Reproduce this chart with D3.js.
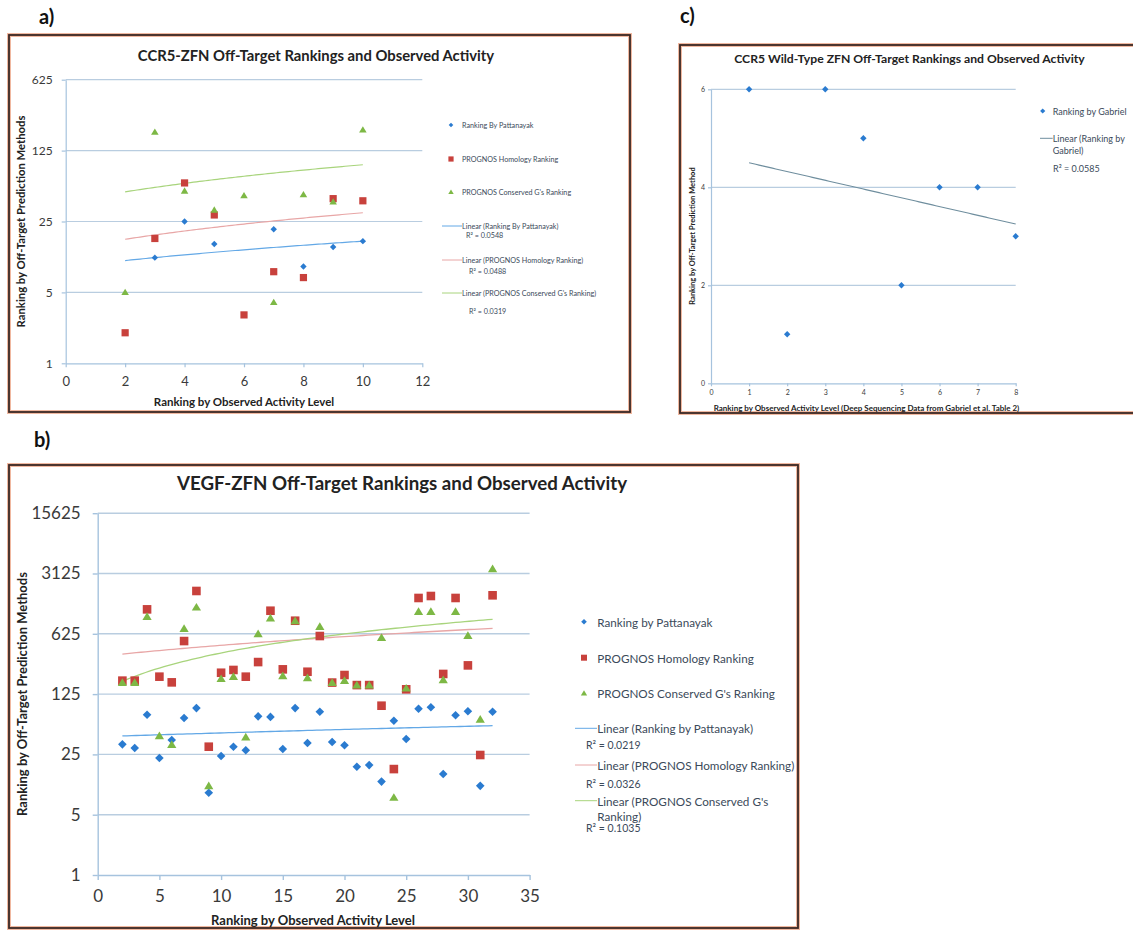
<!DOCTYPE html>
<html><head><meta charset="utf-8">
<script src="https://cdn.jsdelivr.net/npm/d3@7"></script>
<style>
html,body{margin:0;padding:0;background:#fff;}
svg{display:block;font-family:Lato,"Open Sans",sans-serif;}
</style></head><body>
<svg id="chart" width="1133" height="930"></svg>
<script>
// ---------------- DATA ----------------
// Panel a: CCR5-ZFN
const aObserved   = [2, 3, 4, 5, 6, 7, 8, 9, 10];
const aPattanayak = [null, 11, 25, 15, null, 21, 9, 14, 16];
const aHomology   = [2, 17, 60, 29, 3, 8, 7, 42, 40];
const aConservedG = [5, 190, 50, 32.5, 45, 4, 46, 39, 200];
const aTrendRange = [2, 10];
const aTrendPattanayak = [10.3, 16];
const aTrendHomology   = [16.7, 30.5];
const aTrendConservedG = [49, 90.7];
const aR2 = ["0.0548", "0.0488", "0.0319"];
const aXTicks = [0, 2, 4, 6, 8, 10, 12];
const aYTicks = [1, 5, 25, 125, 625];

// Panel b: VEGF-ZFN
const bObserved = [2,3,4,5,6,7,8,9,10,11,12,13,14,15,16,17,18,19,20,21,22,23,24,25,26,27,28,29,30,31,32];
const bPattanayak = [32.7,29.6,72,22.7,36.7,66,86,9.0,24,30.7,27.9,69,68,28.9,86,33.9,78,34.8,31.9,18,18.8,12.1,61.4,37.7,84.6,88,14.8,71,79,10.8,78];
const bHomology   = [179,179,1200,199,171,515,1960,30.7,221,238,199,294,1157,242,886,227,589,170,208,159,159,91.7,16.9,142,1626,1714,214,1626,269,24.6,1746];
const bConservedG = [170,170,986,40.9,32.4,716,1268,10.8,188,199,39.5,622,946,203,879,192,755,170,179,159,159,563,7.9,146,1127,1127,182,1127,594,63.7,3527];
const bTrendRange = [2, 32];
const bTrendPattanayak = [40.9, 53.8];
const bTrendHomology   = [364, 723];
const bTrendConservedG = [176, 920];
const bR2 = ["0.0219", "0.0326", "0.1035"];
const bXTicks = [0, 5, 10, 15, 20, 25, 30, 35];
const bYTicks = [1, 5, 25, 125, 625, 3125, 15625];

// Panel c: CCR5 wild-type ZFN (Gabriel)
const cObserved = [1, 2, 3, 4, 5, 6, 7, 8];
const cGabriel  = [6, 1, 6, 5, 2, 4, 4, 3];
const cR2 = "0.0585";
const cXTicks = [0, 1, 2, 3, 4, 5, 6, 7, 8];
const cYTicks = [0, 2, 4, 6];

// ---------------- STYLE ----------------
const C = {
  blue: "#2a7bd0", red: "#c8413c", green: "#7db845",
  tBlue: "#63a8e6", tRed: "#e8a6a6", tGreen: "#a8d47c", tGrey: "#6f8e9e",
  grid: "#b9cde0", axis: "#a6c3de", text: "#3a3a3a", title: "#222", frame: "#3a2824"
};

const svg = d3.select("#chart");

function marker(g, type, x, y, s, color) {
  if (type === "diamond") {
    g.append("path").attr("d", `M${x},${y - s}L${x + s},${y}L${x},${y + s}L${x - s},${y}Z`).attr("fill", color);
  } else if (type === "square") {
    g.append("rect").attr("x", x - s).attr("y", y - s).attr("width", 2 * s).attr("height", 2 * s).attr("fill", color);
  } else {
    g.append("path").attr("d", `M${x},${y - s}L${x + s * 1.05},${y + s * 0.75}L${x - s * 1.05},${y + s * 0.75}Z`).attr("fill", color);
  }
}

function trendLine(g, xs, ys, range, vals, color, w) {
  const n = 80;
  const pts = d3.range(n + 1).map(i => {
    const t = i / n;
    return [range[0] + (range[1] - range[0]) * t, vals[0] + (vals[1] - vals[0]) * t];
  });
  g.append("path").attr("d", d3.line().x(d => xs(d[0])).y(d => ys(d[1]))(pts))
    .attr("fill", "none").attr("stroke", color).attr("stroke-width", w);
}

function frame(x, y, w, h) {
  svg.append("rect").attr("x", x).attr("y", y).attr("width", w).attr("height", h)
    .attr("fill", "#fff").attr("stroke", "#f0b8a0").attr("stroke-width", 4);
  svg.append("rect").attr("x", x).attr("y", y).attr("width", w).attr("height", h)
    .attr("fill", "none").attr("stroke", C.frame).attr("stroke-width", 1.8);
}

function axesAndGrid(g, xs, ys, xTicks, yTicks, o) {
  const [x0, x1] = xs.range();
  const [yb, yt] = ys.range();
  yTicks.slice(1).forEach(v => {
    g.append("line").attr("x1", x0).attr("x2", x1).attr("y1", ys(v)).attr("y2", ys(v))
      .attr("stroke", C.grid).attr("stroke-width", o.gw);
  });
  const xa = g.append("g").attr("transform", `translate(0,${yb})`)
    .call(d3.axisBottom(xs).tickValues(xTicks).tickSize(o.tick).tickSizeOuter(0).tickFormat(d3.format("d")));
  const ya = g.append("g").attr("transform", `translate(${x0},0)`)
    .call(d3.axisLeft(ys).tickValues(yTicks).tickSize(o.tick).tickSizeOuter(0).tickFormat(d3.format("d")));
  [xa, ya].forEach(a => {
    a.select(".domain").attr("stroke", C.axis).attr("stroke-width", o.aw);
    a.selectAll(".tick line").attr("stroke", C.axis).attr("stroke-width", o.aw);
  });
  xa.selectAll(".tick text").attr("font-size", o.xf).attr("fill", C.text).attr("y", o.xdy).attr("dy", "0.71em")
    .attr("font-family", "Lato, sans-serif");
  ya.selectAll(".tick text").attr("font-size", o.yf).attr("fill", C.text).attr("x", -o.ydx)
    .attr("font-family", "Lato, sans-serif");
}

function text(g, x, y, s, size, opts = {}) {
  const t = g.append("text").attr("x", x).attr("y", y).text(s)
    .attr("font-size", size).attr("fill", opts.fill || C.title)
    .attr("font-weight", opts.bold ? "bold" : "normal")
    .attr("text-anchor", opts.anchor || "start")
    .attr("dominant-baseline", "central");
  if (opts.rotate) t.attr("transform", `rotate(-90,${x},${y})`);
  return t;
}

// ---------------- PANEL LABELS ----------------
text(svg, 39, 16, "a)", 20, { bold: true, fill: "#111" });
text(svg, 680, 15, "c)", 20, { bold: true, fill: "#111" });
text(svg, 34, 439, "b)", 20, { bold: true, fill: "#111" });

// ---------------- PANEL A ----------------
frame(9, 35, 621, 377);
{
  const g = svg.append("g");
  const xs = d3.scaleLinear().domain([0, 12]).range([65.7, 422.3]);
  const ys = d3.scaleLog().base(5).domain([1, 625]).range([363.3, 79.7]);
  axesAndGrid(g, xs, ys, aXTicks, aYTicks, { gw: 1.2, aw: 1.2, tick: 4, xf: 13, yf: 12, xdy: 13, ydx: 13 });
  trendLine(g, xs, ys, aTrendRange, aTrendPattanayak, C.tBlue, 1.2);
  trendLine(g, xs, ys, aTrendRange, aTrendHomology, C.tRed, 1.2);
  trendLine(g, xs, ys, aTrendRange, aTrendConservedG, C.tGreen, 1.2);
  aObserved.forEach((x, i) => { if (aPattanayak[i] != null) marker(g, "diamond", xs(x), ys(aPattanayak[i]), 3.2, C.blue); });
  aObserved.forEach((x, i) => { if (aHomology[i] != null) marker(g, "square", xs(x), ys(aHomology[i]), 3.6, C.red); });
  aObserved.forEach((x, i) => { if (aConservedG[i] != null) marker(g, "triangle", xs(x), ys(aConservedG[i]), 3.6, C.green); });

  text(g, 316, 55, "CCR5-ZFN Off-Target Rankings and Observed Activity", 14.8, { bold: true, anchor: "middle" });
  text(g, 244, 401, "Ranking by Observed Activity Level", 11.5, { bold: true, anchor: "middle" });
  text(g, 20, 221.5, "Ranking by Off-Target Prediction Methods", 11.3, { bold: true, anchor: "middle", rotate: true });

  const lf = 7.2, lc = "#3b4a5a";
  marker(g, "diamond", 451, 125, 2.3, C.blue);     text(g, 462, 125, "Ranking By Pattanayak", lf, { fill: lc });
  marker(g, "square", 451, 159, 2.6, C.red);       text(g, 462, 159, "PROGNOS Homology Ranking", lf, { fill: lc });
  marker(g, "triangle", 451, 192, 2.6, C.green);   text(g, 462, 192, "PROGNOS Conserved G's Ranking", lf, { fill: lc });
  g.append("line").attr("x1", 442).attr("x2", 462).attr("y1", 226).attr("y2", 226).attr("stroke", C.tBlue);
  text(g, 462, 226, "Linear (Ranking By Pattanayak)", lf, { fill: lc });
  text(g, 466, 235, "R² = " + aR2[0], lf, { fill: lc });
  g.append("line").attr("x1", 442).attr("x2", 462).attr("y1", 260).attr("y2", 260).attr("stroke", C.tRed);
  text(g, 462, 260, "Linear (PROGNOS Homology Ranking)", lf, { fill: lc });
  text(g, 469, 271, "R² = " + aR2[1], lf, { fill: lc });
  g.append("line").attr("x1", 442).attr("x2", 462).attr("y1", 293).attr("y2", 293).attr("stroke", C.tGreen);
  text(g, 462, 293, "Linear (PROGNOS Conserved G's Ranking)", lf, { fill: lc });
  text(g, 469, 311, "R² = " + aR2[2], lf, { fill: lc });
}

// ---------------- PANEL C ----------------
frame(680, 45, 470, 368);
{
  const g = svg.append("g");
  const xs = d3.scaleLinear().domain([0, 8]).range([711, 1015.7]);
  const ys = d3.scaleLinear().domain([0, 6]).range([383.3, 89.3]);
  axesAndGrid(g, xs, ys, cXTicks, cYTicks, { gw: 1.2, aw: 1.2, tick: 3, xf: 7, yf: 7, xdy: 7, ydx: 6 });
  const mx = d3.mean(cObserved), my = d3.mean(cGabriel);
  const slope = d3.sum(cObserved, (x, i) => (x - mx) * (cGabriel[i] - my)) / d3.sum(cObserved, x => (x - mx) ** 2);
  const x0 = d3.min(cObserved), x1 = d3.max(cObserved);
  trendLine(g, xs, ys, [x0, x1], [my + slope * (x0 - mx), my + slope * (x1 - mx)], C.tGrey, 1.1);
  cObserved.forEach((x, i) => marker(g, "diamond", xs(x), ys(cGabriel[i]), 3.2, C.blue));

  text(g, 909.5, 58, "CCR5 Wild-Type ZFN Off-Target Rankings and Observed Activity", 12.2, { bold: true, anchor: "middle" });
  text(g, 866.5, 407.5, "Ranking by Observed Activity Level (Deep Sequencing Data from Gabriel et al. Table 2)", 8, { bold: true, anchor: "middle" });
  text(g, 692.5, 236, "Ranking by Off-Target Prediction Method", 7.5, { bold: true, anchor: "middle", rotate: true });

  const lf = 9, lc = "#3b4a5a";
  marker(g, "diamond", 1042.7, 111, 2.6, C.blue); text(g, 1052.7, 111, "Ranking by Gabriel", lf, { fill: lc });
  g.append("line").attr("x1", 1040).attr("x2", 1052.7).attr("y1", 138.3).attr("y2", 138.3).attr("stroke", C.tGrey);
  text(g, 1052.7, 138.3, "Linear (Ranking by", lf, { fill: lc });
  text(g, 1052.7, 150.5, "Gabriel)", lf, { fill: lc });
  text(g, 1053, 168.5, "R² = " + cR2, lf, { fill: lc });
}

// ---------------- PANEL B ----------------
frame(9, 465, 789, 463);
{
  const g = svg.append("g");
  const xs = d3.scaleLinear().domain([0, 35]).range([97.7, 529.6]);
  const ys = d3.scaleLog().base(5).domain([1, 15625]).range([875, 513.2]);
  axesAndGrid(g, xs, ys, bXTicks, bYTicks, { gw: 1.4, aw: 1.4, tick: 5, xf: 17, yf: 17, xdy: 15, ydx: 17 });
  trendLine(g, xs, ys, bTrendRange, bTrendPattanayak, C.tBlue, 1.3);
  trendLine(g, xs, ys, bTrendRange, bTrendHomology, C.tRed, 1.3);
  trendLine(g, xs, ys, bTrendRange, bTrendConservedG, C.tGreen, 1.3);
  bObserved.forEach((x, i) => marker(g, "diamond", xs(x), ys(bPattanayak[i]), 4.3, C.blue));
  bObserved.forEach((x, i) => marker(g, "square", xs(x), ys(bHomology[i]), 4.3, C.red));
  bObserved.forEach((x, i) => marker(g, "triangle", xs(x), ys(bConservedG[i]), 4.4, C.green));

  text(g, 402, 483, "VEGF-ZFN Off-Target Rankings and Observed Activity", 18.7, { bold: true, anchor: "middle" });
  text(g, 313, 920, "Ranking by Observed Activity Level", 13, { bold: true, anchor: "middle" });
  text(g, 22, 694, "Ranking by Off-Target Prediction Methods", 13, { bold: true, anchor: "middle", rotate: true });

  const lf = 11.7, lc = "#3b4a5a";
  marker(g, "diamond", 584, 621.7, 2.8, C.blue);   text(g, 597.3, 621.7, "Ranking by Pattanayak", lf, { fill: lc });
  marker(g, "square", 584, 657.7, 3, C.red);       text(g, 597.3, 657.7, "PROGNOS Homology Ranking", lf, { fill: lc });
  marker(g, "triangle", 584, 693.3, 3, C.green);   text(g, 597.3, 693.3, "PROGNOS Conserved G's Ranking", lf, { fill: lc });
  g.append("line").attr("x1", 575).attr("x2", 597).attr("y1", 728.3).attr("y2", 728.3).attr("stroke", C.tBlue);
  text(g, 597.3, 728.3, "Linear (Ranking by Pattanayak)", lf, { fill: lc });
  text(g, 586, 745, "R² = " + bR2[0], 10.5, { fill: lc });
  g.append("line").attr("x1", 575).attr("x2", 597).attr("y1", 765).attr("y2", 765).attr("stroke", C.tRed);
  text(g, 597.3, 765, "Linear (PROGNOS Homology Ranking)", lf, { fill: lc });
  text(g, 586, 784.3, "R² = " + bR2[1], 10.5, { fill: lc });
  g.append("line").attr("x1", 575).attr("x2", 597).attr("y1", 800.7).attr("y2", 800.7).attr("stroke", C.tGreen);
  text(g, 597.3, 800.7, "Linear (PROGNOS Conserved G's", lf, { fill: lc });
  text(g, 597.3, 815.7, "Ranking)", lf, { fill: lc });
  text(g, 586, 827.7, "R² = " + bR2[2], 10.5, { fill: lc });
}
</script>
</body></html>
